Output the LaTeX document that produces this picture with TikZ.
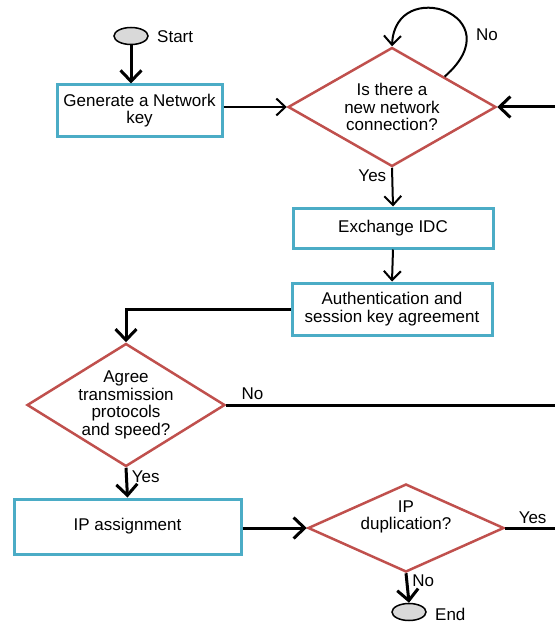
\documentclass[tikz,border=0pt]{standalone}
\usepackage{fontspec}
\setmainfont{Liberation Sans}
\usepackage{tikz}
\usetikzlibrary{shapes.geometric,arrows.meta,positioning}
\usepackage{xcolor}
\definecolor{boxblue}{RGB}{75,172,198}
\definecolor{decred}{RGB}{192,80,77}

\begin{document}
\begin{tikzpicture}[x=1pt, y=-1pt, font=\fontsize{17}{17.5}\selectfont]
\tikzset{
  box/.style={rectangle, draw=boxblue, line width=3pt, align=center, inner sep=2pt},
  dec/.style={diamond, draw=decred, line width=2.5pt, inner sep=0pt},
  txt/.style={align=center, inner sep=0pt},
  term/.style={ellipse, draw=black, line width=1.5pt, fill=gray!30, minimum width=34pt, minimum height=17pt},
  arr/.style={-{Straight Barb[length=9pt,width=17pt]}, line width=2pt},
  thk/.style={-{Straight Barb[length=11pt,width=21pt]}, line width=3pt},
  lbl/.style={inner sep=1pt},
}
\useasboundingbox (0,0) rectangle (555,623);

\node[term] (start) at (131,36) {};
\node[lbl, anchor=west] at (156,37) {Start};
\node[box, minimum width=165pt, minimum height=51pt] (gen) at (139.5,110.5) {Generate a Network\\key};
\node[dec, minimum width=208pt, minimum height=119pt] (conn) at (392,107) {};
\node[txt] (conn-t) at (392,107) {Is there a\\new network\\connection?};
\node[box, minimum width=200pt, minimum height=40pt] (idc) at (393,228) {Exchange IDC};
\node[box, minimum width=200pt, minimum height=52pt] (auth) at (392,309) {Authentication and\\session key agreement};
\node[dec, minimum width=198pt, minimum height=123pt] (agree) at (126,405) {};
\node[txt] (agree-t) at (126,405) {Agree\\transmission\\protocols\\and speed?};
\node[box, minimum width=227pt, minimum height=55pt] (ip) at (127.5,526.5) {IP assignment};
\node[dec, minimum width=196pt, minimum height=88pt] (dup) at (406,528) {};
\node[txt] (dup-t) at (406,517) {IP\\duplication?};
\node[term] (end) at (409,612) {};
\node[lbl, anchor=west] at (434,614) {End};

% free ends at the right margin
\coordinate (back) at (555,107);
\coordinate (fail) at (555,405);
\coordinate (again) at (555,528);

\draw[thk] (start) -- (start |- gen.north);
\draw[arr] (gen.east |- conn.west) -- (conn.west);
\draw[arr] (conn.north east) .. controls (515,15) and (395,-25) .. (conn.north);
\node[lbl] at (487,35) {No};
\draw[thk] (back) -- (conn.east);
\draw[arr] (conn.south) -- node[lbl, left=4pt, pos=0.2] {Yes} (idc.north);
\draw[arr] (idc.south) -- (auth.north);
\draw[thk] (auth.west) -| (agree.north);
\draw[line width=3pt] (agree.east) -- node[lbl, above, pos=0.08, yshift=3pt] {No} (fail);
\draw[thk] (agree.south) -- node[lbl, right=3pt, pos=0.3] {Yes} (ip.north);
\draw[thk] (ip.east |- dup.west) -- (dup.west);
\draw[line width=3pt] (dup.east) -- node[lbl, above, pos=0.55, yshift=2pt] {Yes} (again);
\draw[thk] (dup.south) -- node[lbl, right=3pt, pos=0.25] {No} (end.north);
\end{tikzpicture}
\end{document}
